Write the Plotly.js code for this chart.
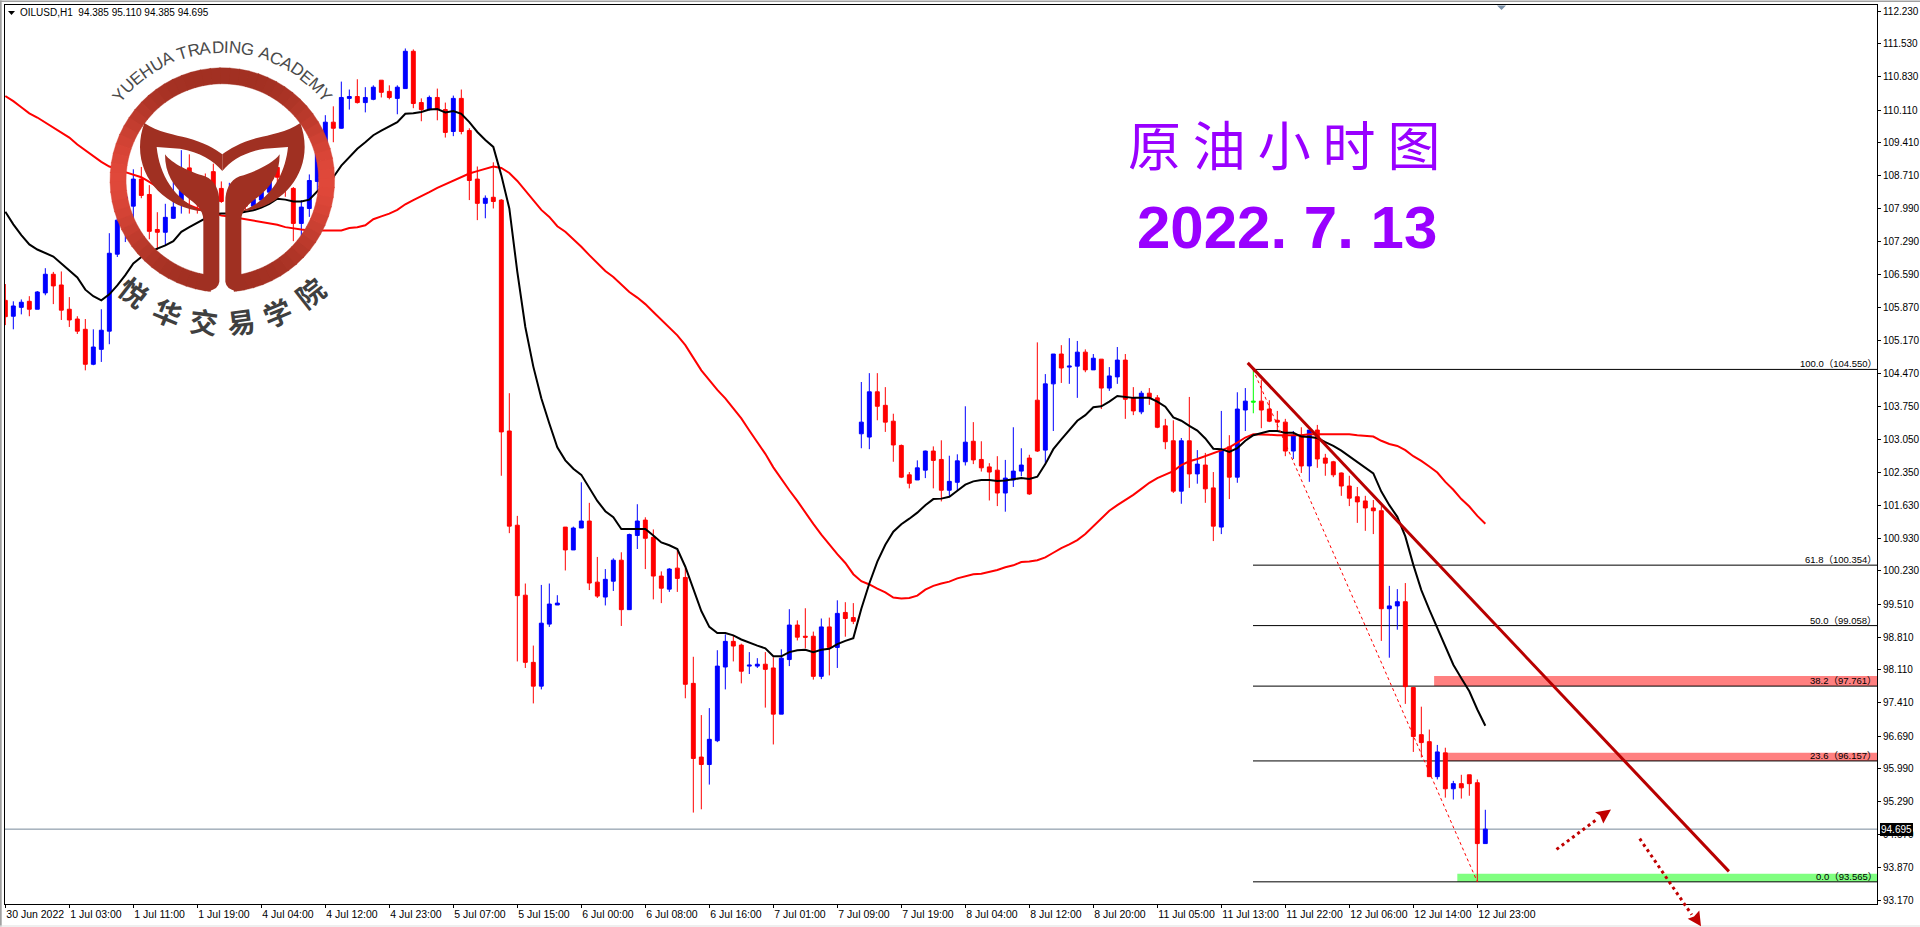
<!DOCTYPE html>
<html>
<head>
<meta charset="utf-8">
<script src="https://cdn.plot.ly/plotly-3.0.1.min.js"></script>
<style>html,body{margin:0;padding:0;background:#fff;overflow:hidden}</style>
</head>
<body>
<div id="chart" style="width:1920px;height:927px"></div>
<script>
// OILUSD H1 candles, oldest first
var opens = [
106.03,105.69,105.88,106.01,105.84,106.19,106.59,106.36,105.84,105.63,
105.41,104.66,104.98,105.37,107.02,107.60,108.05,108.63,108.30,107.55,
107.49,107.79,108.18,108.87,108.37,108.53,108.79,108.43,108.15,108.25,
108.09,108.05,108.18,108.35,108.88,108.71,108.43,107.68,108.00,108.58,
109.39,109.85,109.72,110.36,110.40,110.27,110.34,110.75,110.51,110.36,
110.57,111.37,110.27,110.12,110.38,110.12,109.65,110.36,109.67,108.63,
108.11,108.24,108.18,103.23,101.21,99.71,98.27,97.76,99.09,99.50,
101.17,100.68,101.15,101.30,99.99,99.67,100.01,100.46,99.40,100.99,
101.32,100.95,100.12,99.84,100.29,100.09,97.82,96.24,96.08,96.59,
98.17,98.72,98.64,98.19,98.19,98.23,98.15,97.16,98.33,99.07,
98.83,98.83,97.97,99.03,98.59,99.34,99.23,103.17,103.10,104.07,
103.78,103.44,102.92,102.29,102.18,102.39,102.80,102.62,101.96,102.13,
102.57,103.01,102.62,102.46,102.39,101.90,102.18,102.37,102.65,103.89,
102.82,104.24,104.88,104.60,104.62,104.92,104.54,104.77,104.15,104.39,
104.75,103.94,103.64,104.04,103.94,103.34,103.02,101.94,103.02,102.31,
102.50,102.01,101.17,102.89,102.24,103.68,103.87,103.87,103.70,103.46,
103.42,102.80,103.14,102.48,103.25,102.65,102.57,102.33,102.05,101.82,
101.73,101.58,101.52,99.42,99.48,99.57,97.73,96.72,96.57,95.82,
96.33,95.56,95.67,95.86,95.69,94.385];
var highs = [
106.38,106.01,106.05,106.12,106.23,106.72,106.64,106.65,106.10,105.69,
105.63,105.41,105.84,107.47,108.18,108.82,108.84,108.89,108.50,107.92,
108.10,108.71,109.25,109.16,108.64,108.75,108.96,108.58,108.55,108.45,
108.46,108.41,108.60,108.82,109.07,108.92,108.46,108.18,108.73,109.32,
110.00,110.19,110.72,110.55,110.77,110.60,110.64,110.75,110.64,110.64,
111.43,111.41,110.36,110.42,110.57,110.27,110.42,110.55,109.72,108.90,
108.28,108.99,108.20,104.04,101.41,99.96,98.63,99.93,99.96,99.71,
101.17,101.18,102.13,101.69,100.53,100.27,100.50,100.63,101.03,101.66,
101.38,101.12,100.22,100.29,100.68,100.29,98.39,97.14,97.29,98.53,
98.87,98.85,98.67,98.49,98.36,98.49,98.38,98.55,99.41,99.17,
99.43,98.93,99.21,99.23,99.60,99.56,99.54,104.28,104.47,104.47,
104.17,103.60,102.94,102.35,102.60,102.81,102.90,103.03,102.70,102.73,
103.76,103.42,103.01,102.54,102.69,102.61,103.31,102.86,102.72,105.13,
104.45,104.88,105.07,105.22,105.16,104.98,104.88,104.77,104.60,105.03,
104.88,104.17,104.09,104.15,104.00,103.49,103.46,103.08,103.96,102.82,
102.76,102.35,103.66,103.14,104.06,104.15,104.54,104.32,103.89,103.66,
103.49,103.23,103.31,103.25,103.36,102.74,102.59,102.34,102.27,102.03,
101.84,101.75,101.62,99.91,99.84,99.97,97.73,97.32,96.83,96.50,
96.44,95.73,95.86,95.86,95.76,95.11];
var lows = [
105.50,105.41,105.73,105.69,105.84,106.14,105.95,105.61,105.46,105.31,
104.53,104.64,104.71,105.09,106.96,107.28,107.75,108.22,107.34,107.11,
107.21,107.78,107.89,107.89,107.89,107.89,108.25,108.12,107.95,107.90,
107.95,107.96,108.10,108.25,108.53,108.25,107.30,107.39,107.82,108.39,
109.25,109.42,109.71,110.12,110.25,110.06,110.32,110.38,110.34,110.02,
110.57,110.15,109.87,110.10,109.89,109.52,109.55,109.59,108.18,107.75,
107.79,108.00,102.27,101.04,98.29,98.15,97.39,97.69,99.03,99.50,
100.24,100.68,101.15,99.82,99.65,99.49,99.80,99.05,99.40,100.70,
100.27,99.62,99.54,99.78,99.78,97.50,95.05,95.12,95.65,96.56,
97.69,98.29,97.82,98.02,98.15,97.30,96.51,97.16,98.19,98.74,
98.57,97.90,97.91,97.99,98.15,98.82,99.09,102.86,102.84,103.46,
103.21,102.57,102.22,102.00,102.18,102.22,102.00,101.72,101.83,101.96,
102.49,102.52,102.36,101.74,101.62,101.50,102.03,102.26,101.86,102.78,
102.54,103.23,104.26,104.24,103.94,104.49,104.54,103.70,104.09,104.24,
103.49,103.57,103.59,103.79,103.29,102.84,101.90,101.67,102.01,102.10,
101.69,100.87,101.02,101.77,102.12,103.23,103.61,103.29,103.42,103.25,
102.69,102.63,102.33,102.14,102.44,102.27,102.24,101.84,101.62,101.26,
101.09,101.02,98.73,98.37,98.97,97.38,96.35,96.23,95.82,95.76,
95.37,95.33,95.35,95.41,93.565,94.385];
var closes = [
105.68,105.91,105.99,105.84,106.21,106.59,106.34,105.82,105.61,105.37,
104.66,105.03,105.39,107.04,107.75,108.25,108.63,108.28,107.51,107.49,
107.81,108.03,108.82,108.35,108.29,108.25,108.39,108.15,108.30,108.40,
108.05,108.20,108.35,108.71,108.67,108.43,107.68,108.03,108.60,109.17,
109.85,109.72,110.38,110.40,110.27,110.38,110.60,110.49,110.38,110.60,
111.37,110.25,110.12,110.38,110.12,109.63,110.36,109.65,108.60,108.11,
108.22,108.15,103.21,101.19,99.70,98.27,97.76,99.11,99.52,99.54,
100.68,101.15,101.30,99.97,99.69,100.05,100.46,99.40,101.01,101.30,
100.93,100.12,99.86,100.27,100.07,97.80,96.21,96.08,96.62,98.19,
98.72,98.62,98.08,98.21,98.23,98.12,97.16,98.36,99.07,98.81,
98.81,97.97,99.03,98.59,99.32,99.21,99.15,103.42,104.07,103.76,
103.42,102.93,102.24,102.11,102.44,102.80,102.60,101.96,102.15,102.59,
102.99,102.61,102.44,102.35,101.90,102.22,102.37,102.50,101.88,102.80,
104.24,104.88,104.58,104.62,104.92,104.54,104.79,104.15,104.41,104.75,
103.91,103.66,104.04,103.94,103.31,103.00,101.94,103.02,102.31,102.52,
101.99,101.19,102.82,102.24,103.70,103.87,103.85,103.68,103.44,103.42,
102.80,103.14,102.48,103.25,102.63,102.54,102.29,102.05,101.79,101.71,
101.58,101.52,99.42,99.48,99.57,97.75,96.68,96.55,95.82,96.35,
95.56,95.67,95.58,95.67,94.385,94.695];
var greenBar = 156; // the one doji drawn green

var blackMA = [
107.93,107.66,107.43,107.23,107.12,107.05,106.97,106.82,106.66,106.52,
106.26,106.12,106.03,106.16,106.35,106.57,106.82,106.96,107.07,107.14,
107.21,107.30,107.50,107.60,107.69,107.78,107.88,107.89,107.89,107.89,
107.93,107.96,108.02,108.10,108.21,108.19,108.15,108.15,108.19,108.37,
108.50,108.67,108.92,109.10,109.28,109.42,109.57,109.67,109.76,109.85,
110.03,110.04,110.07,110.12,110.13,110.06,110.09,110.03,109.85,109.64,
109.47,109.32,108.71,108.00,106.64,105.46,104.61,103.93,103.39,102.88,
102.60,102.42,102.29,102.00,101.73,101.51,101.38,101.13,101.13,101.13,
101.13,100.99,100.84,100.78,100.70,100.32,99.85,99.37,99.03,98.90,
98.90,98.85,98.76,98.69,98.63,98.57,98.40,98.40,98.49,98.53,
98.54,98.49,98.54,98.56,98.66,98.73,98.79,99.42,99.96,100.43,
100.79,101.07,101.23,101.35,101.48,101.64,101.77,101.78,101.82,101.95,
102.08,102.15,102.18,102.18,102.16,102.17,102.19,102.22,102.20,102.25,
102.52,102.84,103.05,103.25,103.45,103.57,103.74,103.76,103.86,103.98,
103.96,103.94,103.94,103.94,103.86,103.75,103.52,103.45,103.34,103.24,
103.07,102.85,102.84,102.78,102.86,103.02,103.14,103.19,103.23,103.23,
103.19,103.19,103.11,103.10,103.08,102.99,102.91,102.81,102.69,102.57,
102.44,102.32,101.93,101.64,101.39,100.97,100.36,99.82,99.40,99.00,
98.58,98.22,97.93,97.65,97.26,96.91];
var redMA = [
110.41,110.30,110.17,110.04,109.95,109.84,109.73,109.62,109.52,109.37,
109.25,109.12,109.00,108.90,108.85,108.78,108.73,108.67,108.57,108.46,
108.35,108.25,108.16,108.07,108.00,107.94,107.90,107.85,107.83,107.80,
107.76,107.73,107.70,107.68,107.65,107.60,107.57,107.55,107.53,107.53,
107.53,107.53,107.53,107.58,107.60,107.64,107.77,107.83,107.89,107.97,
108.09,108.18,108.26,108.35,108.44,108.52,108.60,108.67,108.75,108.80,
108.85,108.90,108.87,108.76,108.59,108.39,108.18,107.97,107.82,107.62,
107.50,107.35,107.18,107.00,106.82,106.66,106.53,106.37,106.21,106.09,
105.95,105.78,105.62,105.45,105.28,105.07,104.81,104.53,104.32,104.11,
103.93,103.71,103.50,103.24,102.99,102.74,102.45,102.20,101.96,101.73,
101.48,101.24,101.01,100.79,100.59,100.40,100.16,100.01,99.94,99.85,
99.77,99.66,99.64,99.65,99.70,99.83,99.91,99.96,100.00,100.07,
100.12,100.16,100.17,100.21,100.25,100.31,100.35,100.42,100.43,100.46,
100.52,100.62,100.72,100.80,100.89,101.02,101.18,101.35,101.52,101.64,
101.75,101.86,101.99,102.12,102.22,102.29,102.37,102.50,102.58,102.63,
102.69,102.75,102.82,102.88,102.98,103.09,103.16,103.16,103.15,103.14,
103.14,103.14,103.14,103.16,103.16,103.16,103.16,103.16,103.16,103.14,
103.12,103.11,103.02,102.95,102.91,102.82,102.69,102.59,102.47,102.34,
102.14,101.97,101.77,101.61,101.41,101.24];

var priceTicks = [112.23,111.53,110.83,110.11,109.41,108.71,107.99,107.29,106.59,105.87,105.17,104.47,103.75,103.05,102.35,101.63,100.93,100.23,99.51,98.81,98.11,97.41,96.69,95.99,95.29,94.57,93.87,93.17];
var timeLabels = ["30 Jun 2022","1 Jul 03:00","1 Jul 11:00","1 Jul 19:00","4 Jul 04:00","4 Jul 12:00","4 Jul 23:00","5 Jul 07:00","5 Jul 15:00","6 Jul 00:00","6 Jul 08:00","6 Jul 16:00","7 Jul 01:00","7 Jul 09:00","7 Jul 19:00","8 Jul 04:00","8 Jul 12:00","8 Jul 20:00","11 Jul 05:00","11 Jul 13:00","11 Jul 22:00","12 Jul 06:00","12 Jul 14:00","12 Jul 23:00"];
var labelEvery = 8;

var lastPrice = 94.695;
var fibPercents = ["100.0","61.8","50.0","38.2","23.6","0.0"];
var fibPrices = [104.55,100.354,99.058,97.761,96.157,93.565];
var fibStart = 155.96, fibEnd = 184;

// [from bar, low price, high price]
var zoneStarts = [178.6,180.2,181.5];
var zoneLows = [97.761,96.157,93.565];
var zoneHighs = [97.98,96.33,93.74];
var zoneColors = ["#ff8080","#ff8080","#80ff80"];

var trendX = [155.3,215.45], trendY = [104.69,93.79];
var arrowUpX = [193.9,198.9], arrowUpY = [94.26,94.90];
var arrowDownX = [204.3,210.8], arrowDownY = [94.49,92.86];

var axisFont = {family:'"Liberation Sans", Arial, sans-serif', size:10, color:'#000'};
var timeFont = {family:'"Liberation Sans", Arial, sans-serif', size:10.5, color:'#000'};

var barIdx = opens.map(function(_, i){ return i; });
var idx = barIdx.filter(function(i){ return i !== greenBar; });
function pick(arr){ return idx.map(function(i){ return arr[i]; }); }

var traces = [
  {type:'candlestick', x:idx, open:pick(opens), high:pick(highs), low:pick(lows), close:pick(closes),
   increasing:{line:{color:'#0000ff',width:1}, fillcolor:'#0000ff'},
   decreasing:{line:{color:'#ff0000',width:1}, fillcolor:'#ff0000'}},
  {type:'candlestick', x:[greenBar], open:[opens[greenBar]], high:[highs[greenBar]], low:[lows[greenBar]], close:[closes[greenBar]],
   increasing:{line:{color:'#00ff00',width:1}, fillcolor:'#00ff00'},
   decreasing:{line:{color:'#00ff00',width:1}, fillcolor:'#00ff00'}},
  {type:'scatter', mode:'lines', x:barIdx, y:redMA, line:{color:'#ff0000',width:2}},
  {type:'scatter', mode:'lines', x:barIdx, y:blackMA, line:{color:'#000',width:2}},
  {type:'scatter', mode:'lines', x:[fibStart,fibEnd], y:[fibPrices[0],fibPrices[5]], line:{color:'#ff0000',width:1,dash:'3px,3px'}},
  {type:'scatter', mode:'lines', x:trendX, y:trendY, line:{color:'#b80000',width:3}}
];

// plot frame in page pixels
var L = 5, R = 1877, T = 4.5, B = 904.5;
var xRange = [-0.04,233.96], yRange = [93.09,112.362];
function px(x){ return (x - L) / (R - L); }
function py(y){ return (B - y) / (B - T); }
function barToPaper(i){ return (i - xRange[0]) / (xRange[1] - xRange[0]); }
function priceToPaper(p){ return (p - yRange[0]) / (yRange[1] - yRange[0]); }

var shapes = [];
var annotations = [];

// zones and fib lines sit behind the candles
zoneStarts.forEach(function(s, i){
  shapes.push({type:'rect', layer:'below', xref:'x', yref:'y', x0:s, x1:234, y0:zoneLows[i], y1:zoneHighs[i], fillcolor:zoneColors[i], line:{width:0}});
});
fibPrices.forEach(function(p, i){
  shapes.push({type:'line', layer:'below', xref:'x', yref:'y', x0:fibStart, x1:234, y0:p, y1:p, line:{color:'#000',width:1}});
  annotations.push({xref:'x', yref:'y', x:233.9, y:p, xanchor:'right', yanchor:'bottom', showarrow:false,
    text:fibPercents[i] + '（' + p.toFixed(3) + '）',
    font:{family:'"Liberation Sans", "Noto Sans CJK SC", sans-serif', size:9.5, color:'#000'}, borderpad:0, borderwidth:0});
});
shapes.push({type:'line', layer:'below', xref:'paper', yref:'y', x0:0, x1:1, y0:lastPrice, y1:lastPrice, line:{color:'#778899',width:1}});

// window chrome
function pixelPath(d){
  return d.replace(/(-?[\d.]+) (-?[\d.]+)/g, function(m, a, b){ return px(+a) + ' ' + py(+b); });
}
function chrome(d, color){
  shapes.push({type:'path', xref:'paper', yref:'paper', path:pixelPath(d), fillcolor:color, line:{width:0}});
}
chrome('M0 0 L1920 0 L1920 1.6 L0 1.6 Z', '#a0a0a0');
chrome('M0 0 L1.7 0 L1.7 927 L0 927 Z', '#a0a0a0');
chrome('M0 926 L1920 926 L1920 927 L0 927 Z', '#e0e0e0');
chrome('M1497 5 L1506 5 L1501.5 9.5 Z', '#7a90a8');
chrome('M8 10.5 L15 10.5 L11.5 14.5 Z', '#000');

// dotted arrows; paper refs so the lower one may leave the plot area
function arrowShaft(xs, ys){
  shapes.push({type:'line', layer:'above', xref:'paper', yref:'paper',
    x0:barToPaper(xs[0]), y0:priceToPaper(ys[0]), x1:barToPaper(xs[1]), y1:priceToPaper(ys[1]),
    line:{color:'#c00000',width:3,dash:'3px,3.5px'}});
}
arrowShaft(arrowUpX, arrowUpY);
arrowShaft(arrowDownX, arrowDownY);
chrome('M1611 810 L1595 812.7 L1600 816 L1603.3 824 Z', '#c00000');
chrome('M1701 926.7 L1687.7 919.3 L1694 917 L1699.3 911 Z', '#c00000');

// logo, drawn in the coordinates of a 3x view of its corner
var cx = 667, cy = 539;
function logoPath(d, mirror){
  return d.replace(/(-?[\d.]+) (-?[\d.]+)/g, function(m, a, b){
    var x = mirror ? 2 * cx - (+a) : +a;
    return px(x / 3) + ' ' + py(+b / 3);
  });
}
function mix(t){
  var a = [162,48,34], b = [224,72,58];
  return 'rgb(' + a.map(function(v, i){ return Math.round(v + (b[i] - v) * t); }).join(',') + ')';
}
var ringStep = 5, ringGap = 6;
for (var deg = ringGap; deg < 360 - ringGap; deg += ringStep) {
  var a0 = deg * Math.PI / 180, a1 = Math.min(deg + ringStep + 0.4, 360 - ringGap) * Math.PI / 180;
  var r1 = 289, r2 = 337;
  var seg = 'M' + (cx + r2 * Math.sin(a0)) + ' ' + (cy + r2 * Math.cos(a0)) +
            ' L' + (cx + r2 * Math.sin(a1)) + ' ' + (cy + r2 * Math.cos(a1)) +
            ' L' + (cx + r1 * Math.sin(a1)) + ' ' + (cy + r1 * Math.cos(a1)) +
            ' L' + (cx + r1 * Math.sin(a0)) + ' ' + (cy + r1 * Math.cos(a0)) + ' Z';
  var shade = mix(Math.pow(Math.abs(Math.sin((a0 + a1) / 2)), 4));
  shapes.push({type:'path', layer:'above', xref:'paper', yref:'paper', path:logoPath(seg), fillcolor:shade, line:{color:shade,width:0.4}});
}
var lobe = 'M433 368 C470 395 530 405 560 412 C610 425 645 445 667 462 L667 512 C640 480 600 455 540 445 L470 440 C478 520 520 600 612 634 C500 625 420 540 420 440 C420 415 425 390 433 368 Z';
var stem = 'M495 462 C515 490 570 515 615 528 C645 540 658 570 658 605 L658 845 Q655 868 625 873 L585 865 L610 825 L610 660 C610 625 585 610 560 590 C520 560 495 520 495 462 Z';
[false, true].forEach(function(m){
  shapes.push({type:'path', layer:'above', xref:'paper', yref:'paper', path:logoPath(lobe, m), fillcolor:'#a03022', line:{width:0}});
  shapes.push({type:'path', layer:'above', xref:'paper', yref:'paper', path:logoPath(stem, m), fillcolor:'#a03022', line:{width:0}});
});

// logo lettering, one rotated annotation per character
function putChar(ch, thetaDeg, radius, bottom, size, family, weight, color){
  var t = thetaDeg * Math.PI / 180;
  var X = (cx + radius * Math.sin(t)) / 3;
  var Y = (cy + (bottom ? radius * Math.cos(t) : -radius * Math.cos(t))) / 3;
  annotations.push({xref:'paper', yref:'paper', x:px(X), y:py(Y), xanchor:'center', yanchor:'middle', showarrow:false,
    textangle: bottom ? -thetaDeg : thetaDeg, text:ch, font:{family:family, size:size, color:color, weight:weight}});
}
var arcText = 'YUEHUA TRADING ACADEMY';
var ctx = document.createElement('canvas').getContext('2d');
ctx.font = '17px "Liberation Sans"';
var total = ctx.measureText(arcText).width, run = 0;
arcText.split('').forEach(function(ch){
  var w = ctx.measureText(ch).width;
  if (ch !== ' ') putChar(ch, -53 + 106 * (run + w / 2) / total, 399, false, 17, '"Liberation Sans", sans-serif', 400, '#4a4a4a');
  run += w;
});
var cnText = ['悦','华','交','易','学','院'], cnAngles = [-38,-22.5,-7.5,7.5,22.5,38];
cnText.forEach(function(ch, i){
  putChar(ch, cnAngles[i], 428, true, 28, '"Noto Sans CJK SC", sans-serif', 700, '#3f3f3f');
});

// chart caption and big titles
annotations.push({xref:'paper', yref:'paper', x:px(20), y:py(12.5), xanchor:'left', yanchor:'middle', showarrow:false,
  text:'OILUSD,H1  94.385 95.110 94.385 94.695', font:axisFont, borderpad:0, borderwidth:0});
annotations.push({xref:'paper', yref:'paper', x:px(1284), y:py(143), xanchor:'center', yanchor:'middle', showarrow:false,
  text:'原 油 小 时 图', font:{family:'"Noto Sans CJK SC", sans-serif', size:53, color:'#9900ff'}});
annotations.push({xref:'paper', yref:'paper', x:px(1287), y:py(227), xanchor:'center', yanchor:'middle', showarrow:false,
  text:'2022. 7. 13', font:{family:'"Liberation Sans", Arial, sans-serif', size:60, color:'#9900ff', weight:700}});

// last price flag on the axis
annotations.push({xref:'paper', yref:'y', x:px(1880), y:lastPrice, xanchor:'left', yanchor:'middle', showarrow:false,
  text:lastPrice.toFixed(3), bgcolor:'#000', font:{family:axisFont.family, size:10, color:'#fff'}, borderpad:1, borderwidth:0});

var layout = {
  width:1920, height:927,
  margin:{l:L, r:1920-R, t:T, b:927-B, pad:0},
  paper_bgcolor:'#fff', plot_bgcolor:'#fff',
  showlegend:false, hovermode:false, dragmode:false,
  xaxis:{type:'linear', range:xRange, rangeslider:{visible:false}, showgrid:false, zeroline:false,
    showline:true, mirror:true, linecolor:'#000', linewidth:1,
    tickmode:'array', tickvals:timeLabels.map(function(_, i){ return i * labelEvery; }), ticktext:timeLabels, tickangle:0,
    ticks:'outside', ticklen:3, tickcolor:'#000', tickwidth:1, tickfont:timeFont, ticklabelposition:'outside right', automargin:false},
  yaxis:{side:'right', range:yRange, showgrid:false, zeroline:false,
    showline:true, mirror:true, linecolor:'#000', linewidth:1,
    tickmode:'array', tickvals:priceTicks, ticktext:priceTicks.map(function(p){ return p.toFixed(3); }),
    ticks:'outside', ticklen:3, tickcolor:'#000', tickwidth:1, tickfont:axisFont, automargin:false},
  shapes:shapes, annotations:annotations
};

Plotly.newPlot('chart', traces, layout, {displayModeBar:false, staticPlot:true});
</script>
</body>
</html>
